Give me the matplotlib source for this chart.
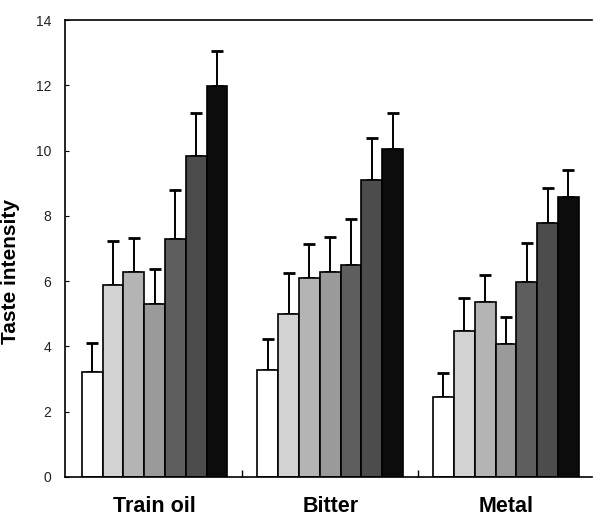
import matplotlib
matplotlib.use("Agg")
import matplotlib.pyplot as plt
import numpy as np

plt.rcParams['font.family'] = ['Liberation Sans', 'DejaVu Sans']

categories = ["Train oil", "Bitter", "Metal"]
yticks = [0, 2, 4, 6, 8, 10, 12, 14]

# mean taste intensity per level (7 levels per attribute)
train_oil = [3.22, 5.89, 6.28, 5.30, 7.30, 9.83, 11.99]
bitter = [3.27, 4.98, 6.10, 6.28, 6.49, 9.10, 10.05]
metal = [2.46, 4.47, 5.35, 4.07, 5.96, 7.78, 8.57]

# upper error per level
train_oil_err = [0.90, 1.33, 1.04, 1.07, 1.50, 1.31, 1.05]
bitter_err = [0.97, 1.27, 1.04, 1.07, 1.42, 1.29, 1.09]
metal_err = [0.73, 1.02, 0.83, 0.83, 1.21, 1.07, 0.85]

colors = ["#ffffff", "#d2d2d2", "#b4b4b4", "#9a9a9a", "#5e5e5e", "#4c4c4c", "#0c0c0c"]

means = np.array([train_oil, bitter, metal])
errs = np.array([train_oil_err, bitter_err, metal_err])

fig = plt.figure(figsize=(5.94, 5.20), dpi=100)
ax = fig.add_axes([65/594, 1-477/520, (592-65)/594, (477-20)/520])

n_levels = means.shape[1]
width = 0.1185
x = np.arange(len(categories))
for i in range(n_levels):
    pos = x + (i - (n_levels - 1) / 2) * width
    ax.bar(pos, means[:, i], width=width, color=colors[i], edgecolor="black",
           linewidth=1.2, zorder=2)
    ax.errorbar(pos, means[:, i], yerr=[np.zeros(len(categories)), errs[:, i]],
                fmt="none", ecolor="black", elinewidth=1.4, capsize=4,
                capthick=2, zorder=1)

ax.set_xlim(-0.51, 2.49)
ax.set_ylim(0, 14)
ax.set_yticks(yticks)
ax.set_yticklabels([str(t) for t in yticks], fontsize=10, color="#222222")
ax.tick_params(axis="y", direction="in", length=3, width=0.8, pad=10)

ax.set_xticks(x)
ax.set_xticklabels(categories, fontsize=15.5, fontweight="bold")
ax.tick_params(axis="x", which="major", length=0, pad=14)
ax.set_xticks([0.5, 1.5], minor=True)
ax.tick_params(axis="x", which="minor", direction="in", length=5, width=1)

ax.set_ylabel("Taste intensity", fontsize=15, fontweight="bold")
ax.yaxis.set_label_coords(-0.085, 0.449)

for side in ["left", "bottom", "top"]:
    ax.spines[side].set_linewidth(1.2)
ax.spines["right"].set_visible(False)

fig.savefig("out.png", dpi=100)
